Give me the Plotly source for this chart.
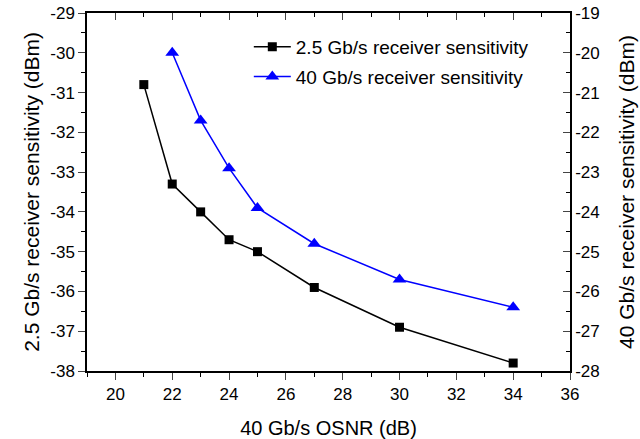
import plotly.graph_objects as go

osnr_25 = [21, 22, 23, 24, 25, 27, 30, 34]
sens_25 = [-30.8, -33.3, -34.0, -34.7, -35.0, -35.9, -36.9, -37.8]
osnr_40 = [22, 23, 24, 25, 27, 30, 34]
sens_40 = [-20.0, -21.7, -22.9, -23.9, -24.8, -25.7, -26.4]

x_ticks = [20, 22, 24, 26, 28, 30, 32, 34, 36]
y1_ticks = [-29, -30, -31, -32, -33, -34, -35, -36, -37, -38]
y2_ticks = [-19, -20, -21, -22, -23, -24, -25, -26, -27, -28]

FONT = "Liberation Sans, Arial, sans-serif"

def labels(vals):
    return [f"{v:g}" for v in vals]

fig = go.Figure()
fig.add_trace(go.Scatter(
    x=osnr_25, y=sens_25, mode="lines+markers",
    name="2.5 Gb/s receiver sensitivity",
    line=dict(color="black", width=1.5),
    marker=dict(symbol="square", size=9, color="black"),
    xaxis="x", yaxis="y", legend="legend"))
fig.add_trace(go.Scatter(
    x=osnr_40, y=sens_40, mode="lines+markers",
    name="40 Gb/s receiver sensitivity",
    line=dict(color="#0000ff", width=1.5),
    marker=dict(symbol="triangle-up", size=12, color="#0000ff"),
    xaxis="x", yaxis="y2", legend="legend2"))
# invisible trace to activate top axis
fig.add_trace(go.Scatter(x=[None], y=[None], xaxis="x2", yaxis="y", showlegend=False, hoverinfo="skip"))

axfont = dict(family=FONT, size=17, color="black")
fig.update_layout(
    width=640, height=439,
    margin=dict(l=87, r=70, t=13, b=68, autoexpand=False),
    paper_bgcolor="white", plot_bgcolor="white",
    font=dict(family=FONT, color="black"),
    showlegend=True,
    xaxis=dict(range=[19, 36], tickvals=x_ticks, ticktext=labels(x_ticks), ticks="outside", ticklen=7, tickwidth=1,
               minor=dict(ticks="outside", ticklen=4, dtick=1, tick0=19, tickcolor="black"),
               showline=True, linecolor="black", linewidth=1.5, showgrid=False, zeroline=False,
               tickfont=axfont, automargin=False,
               title=dict(text="40 Gb/s OSNR (dB)", font=dict(family=FONT, size=20), standoff=22)),
    xaxis2=dict(range=[19, 36], overlaying="x", side="top", tickvals=x_ticks, ticks="inside",
                ticklen=7, showticklabels=False, automargin=False,
                minor=dict(ticks="inside", ticklen=4, dtick=1, tick0=19, tickcolor="black"),
                showline=True, linecolor="black", linewidth=1.5, showgrid=False, zeroline=False),
    yaxis=dict(range=[-38, -29], tickvals=y1_ticks, ticktext=labels(y1_ticks), ticks="outside", ticklen=7,
               minor=dict(ticks="outside", ticklen=4, dtick=0.5, tick0=-38, tickcolor="black"),
               showline=True, linecolor="black", linewidth=1.5, showgrid=False, zeroline=False,
               tickfont=axfont, automargin=False,
               title=dict(text="2.5 Gb/s receiver sensitivity (dBm)", font=dict(family=FONT, size=21), standoff=5)),
    yaxis2=dict(range=[-28, -19], tickvals=y2_ticks, ticktext=labels(y2_ticks), overlaying="y", side="right", ticks="inside",
                ticklen=7, automargin=False,
                minor=dict(ticks="inside", ticklen=4, dtick=0.5, tick0=-28, tickcolor="black"),
                showline=True, linecolor="black", linewidth=1.5, showgrid=False, zeroline=False,
                tickfont=axfont,
                title=dict(text="40 Gb/s receiver sensitivity (dBm)", font=dict(family=FONT, size=21), standoff=21)),
    legend=dict(x=0.335, y=0.905, xanchor="left", yanchor="middle", bgcolor="rgba(0,0,0,0)",
                itemwidth=37, font=dict(family=FONT, size=19, color="black")),
    legend2=dict(x=0.335, y=0.822, xanchor="left", yanchor="middle", bgcolor="rgba(0,0,0,0)",
                 itemwidth=37, font=dict(family=FONT, size=19, color="black")),
)
fig.write_html("out.html")
